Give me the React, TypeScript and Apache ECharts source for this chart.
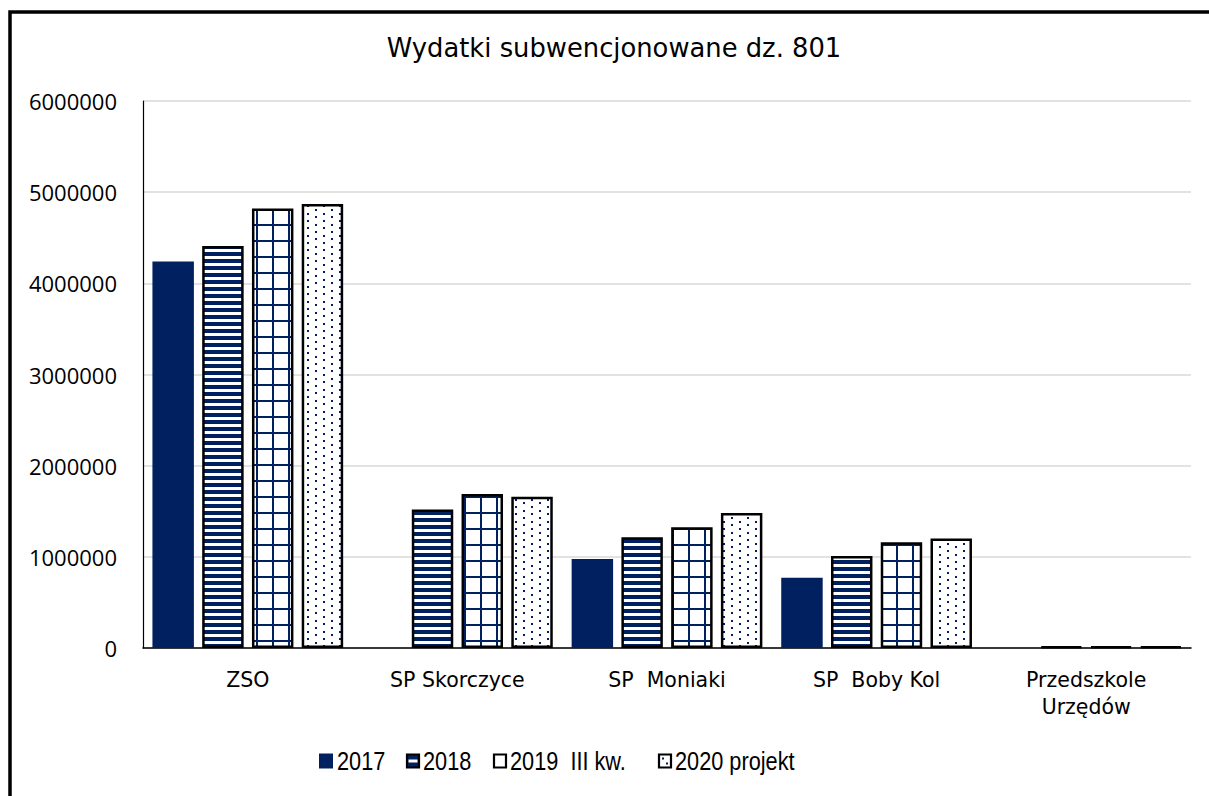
import React, { useEffect, useRef } from "react";
import * as echarts from "echarts";

const categories = ["ZSO", "SP Skorczyce", "SP  Moniaki", "SP  Boby Kol", "Przedszkole\nUrzędów"];
const seriesNames = ["2017", "2018", "2019  III kw.", "2020 projekt"];
const v2017 = [4240000, 0, 975000, 770000, 0];
const v2018 = [4410000, 1520000, 1215000, 1010000, 14000];
const v2019 = [4820000, 1690000, 1325000, 1160000, 14000];
const v2020 = [4870000, 1660000, 1480000, 1200000, 14000];
const yTicks = [0, 1000000, 2000000, 3000000, 4000000, 5000000, 6000000];

const NAVY = "#002060";

function makeCanvas(w: number, h: number, draw: (c: CanvasRenderingContext2D) => void) {
  const cv = document.createElement("canvas");
  cv.width = w;
  cv.height = h;
  const ctx = cv.getContext("2d")!;
  ctx.fillStyle = "#ffffff";
  ctx.fillRect(0, 0, w, h);
  ctx.fillStyle = NAVY;
  draw(ctx);
  return cv;
}

export default function App() {
  const ref = useRef<HTMLDivElement>(null);
  useEffect(() => {
    document.body.style.margin = "0";
    const chart = echarts.init(ref.current!, null, { renderer: "svg" });
    const stripes = makeCanvas(8, 7, (c) => c.fillRect(0, 0, 8, 4));
    const grid = makeCanvas(16, 16, (c) => {
      c.fillRect(0, 0, 16, 2);
      c.fillRect(0, 0, 2, 16);
    });
    const dots = makeCanvas(16, 22, (c) => {
      [0, 7, 15].forEach((y) => c.fillRect(3, y, 2, 2));
      [4, 11, 18].forEach((y) => c.fillRect(11, y, 2, 2));
    });
    const fills: any[] = [
      NAVY,
      { image: stripes, repeat: "repeat" },
      { image: grid, repeat: "repeat" },
      { image: dots, repeat: "repeat" },
    ];
    const values = [v2017, v2018, v2019, v2020];
    const series = seriesNames.map((name, i) => ({
      name,
      type: "bar",
      data: values[i],
      barGap: "20%",
      barCategoryGap: "9%",
      itemStyle: {
        color: fills[i],
        borderColor: i === 0 ? NAVY : "#000000",
        borderWidth: i === 0 ? 0 : 2.5,
      },
    }));

    // legend drawn as graphic so the narrow legend font can be emulated
    const legendIconX = [319, 406, 493, 658];
    const legendTextX = [337, 423, 510, 675];
    const legendY = 761;
    const iconW = 14;
    const iconH = 15;
    const legendEls: any[] = [];
    seriesNames.forEach((name, i) => {
      const x = legendIconX[i];
      const y = legendY - iconH / 2;
      if (i === 0) {
        legendEls.push({ type: "rect", shape: { x, y, width: iconW, height: iconH }, style: { fill: NAVY } });
      } else {
        legendEls.push({
          type: "rect",
          shape: { x: x + 1, y: y + 1, width: iconW - 2, height: iconH - 2 },
          style: { fill: i === 1 ? NAVY : "#ffffff", stroke: "#000000", lineWidth: 2.2 },
        });
        if (i === 1) {
          legendEls.push({ type: "rect", shape: { x: x + 2.5, y: y + iconH / 2 - 1.5, width: iconW - 5, height: 3 }, style: { fill: "#ffffff" } });
        }
        if (i === 3) {
          legendEls.push({ type: "rect", shape: { x: x + 4, y: y + 4, width: 2, height: 2 }, style: { fill: NAVY } });
          legendEls.push({ type: "rect", shape: { x: x + 8, y: y + 9, width: 2, height: 2 }, style: { fill: NAVY } });
        }
      }
      legendEls.push({
        type: "text",
        x: legendTextX[i],
        y: legendY,
        scaleX: 0.82,
        style: {
          text: name,
          fontFamily: "Liberation Sans",
          fontSize: 26.5,
          fill: "#000000",
          align: "left",
          verticalAlign: "middle",
        },
      });
    });

    chart.setOption({
      animation: false,
      backgroundColor: "#ffffff",
      graphic: [
        {
          type: "rect",
          shape: { x: 10, y: 12, width: 1400, height: 1000 },
          style: { fill: "none", stroke: "#000000", lineWidth: 3.5 },
          z: 100,
        },
        {
          type: "text",
          x: 614,
          y: 48,
          style: {
            text: "Wydatki subwencjonowane dz. 801",
            fontFamily: "DejaVu Sans",
            fontSize: 25.8,
            fill: "#000000",
            align: "center",
            verticalAlign: "middle",
          },
        },
        ...legendEls,
      ],
      grid: { left: 143, right: 18, top: 101, bottom: 148 },
      xAxis: {
        type: "category",
        data: categories,
        axisLine: { lineStyle: { color: "#000000", width: 1.5 } },
        axisTick: { show: false },
        axisLabel: {
          fontFamily: "DejaVu Sans",
          fontSize: 20.5,
          color: "#000000",
          margin: 18,
          lineHeight: 27,
          verticalAlign: "top",
          interval: 0,
        },
      },
      yAxis: {
        type: "value",
        min: 0,
        max: 6000000,
        interval: 1000000,
        axisLine: { show: true, lineStyle: { color: "#000000", width: 1.2 } },
        axisTick: { show: false },
        splitLine: { lineStyle: { color: "#d9d9d9", width: 1.5 } },
        axisLabel: {
          fontFamily: "Open Sans",
          fontSize: 22,
          color: "#000000",
          margin: 26,
          formatter: (v: number) => (yTicks.indexOf(v) >= 0 ? String(v) : ""),
        },
      },
      series,
    });
    return () => chart.dispose();
  }, []);
  return <div ref={ref} style={{ width: 1209, height: 796 }} />;
}
